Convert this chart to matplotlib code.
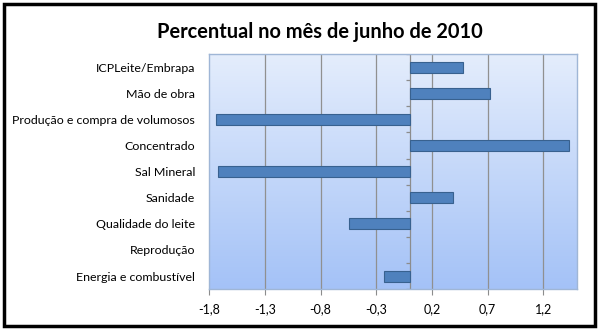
import numpy as np
import matplotlib.pyplot as plt
from matplotlib.patches import Rectangle
from matplotlib.colors import LinearSegmentedColormap

categories = ["ICPLeite/Embrapa", "Mão de obra", "Produção e compra de volumosos",
              "Concentrado", "Sal Mineral", "Sanidade", "Qualidade do leite",
              "Reprodução", "Energia e combustível"]
values = [0.48, 0.72, -1.74, 1.43, -1.72, 0.39, -0.54, 0.0, -0.23]
xticks = [-1.8, -1.3, -0.8, -0.3, 0.2, 0.7, 1.2]
xticklabels = ["-1,8", "-1,3", "-0,8", "-0,3", "0,2", "0,7", "1,2"]

plt.rcParams['font.family'] = ['Lato', 'DejaVu Sans']

fig = plt.figure(figsize=(5.99, 3.30), dpi=100)
# outer black border
fig.patches.append(Rectangle((0.006, 0.012), 0.988, 0.976, transform=fig.transFigure,
                             fill=False, edgecolor="black", linewidth=2.5))

ax = fig.add_axes([0.349, 0.124, 0.614, 0.712])
xmin, xmax = -1.8, 1.5
n = len(categories)
ax.set_xlim(xmin, xmax)
ax.set_ylim(n - 0.5, -0.5)

# gradient background
grad = np.linspace(0, 1, 256).reshape(-1, 1)
cmap = LinearSegmentedColormap.from_list("bg", ["#e4edfc", "#a4c2f7"])
ax.imshow(grad, extent=[xmin, xmax, n - 0.5, -0.5], aspect="auto", cmap=cmap,
          zorder=0, interpolation="bicubic")

for t in xticks[1:]:
    ax.axvline(t, color="#909090", linewidth=0.9, zorder=1)

y = np.arange(n)
edges = ["#38618f" if v != 0 else "none" for v in values]
ax.barh(y, values, height=0.42, color="#4f81bd", edgecolor=edges,
        linewidth=0.8, zorder=3)

# category axis at zero
ax.axvline(0, color="#8c8c8c", linewidth=0.9, zorder=2)
ax.hlines(np.arange(n + 1) - 0.5, -0.035, 0, color="#8c8c8c", linewidth=0.9, zorder=2)

ax.set_xticks(xticks)
ax.set_xticklabels(xticklabels, fontsize=9)
ax.set_yticks(y)
ax.set_yticklabels(categories, fontsize=8.9)
ax.tick_params(axis="y", length=0, pad=10)
ax.tick_params(axis="x", length=4, color="#8c8c8c", pad=6)

for s in ax.spines.values():
    s.set_color("#9fb6d6")
    s.set_linewidth(1.0)

fig.text(0.534, 0.903, "Percentual no mês de junho de 2010", ha="center", va="center",
         fontsize=14.4, fontweight="bold")

fig.savefig("out.png", dpi=100)
